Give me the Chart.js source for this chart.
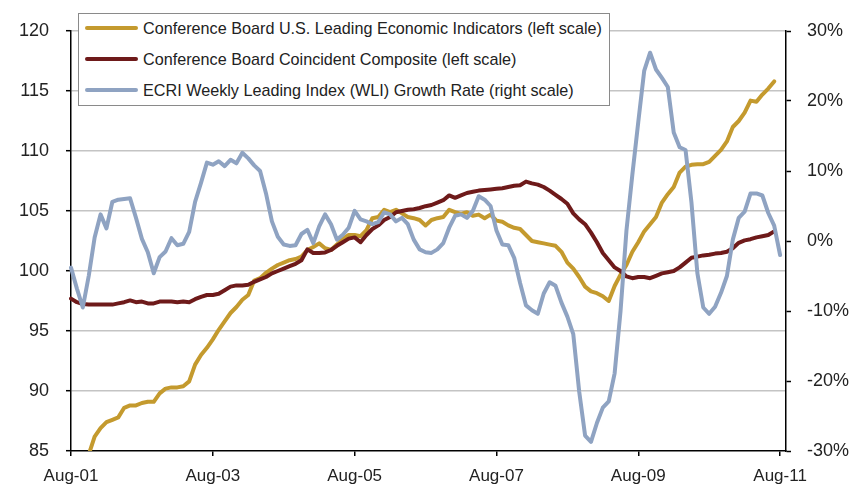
<!DOCTYPE html>
<html lang="en">
<head>
<meta charset="UTF-8">
<title>Conference Board indices vs ECRI WLI growth</title>
<script src="https://cdn.jsdelivr.net/npm/chart.js"></script>
<style>
  body { margin: 0; background: #fff; }
  .wrap { position: relative; width: 857px; height: 487px; }
  .legend { position: absolute; left: 78px; top: 13px; width: 530px; height: 91px; border: 1px solid #8a8a8a; background: #fff;
            font: 16.2px "Liberation Sans", Arial, sans-serif; color: #222; }
  .row { position: absolute; left: 6px; height: 20px; display: flex; align-items: center; white-space: nowrap; }
  .swatch { width: 53px; height: 4px; border-radius: 2px; margin-right: 5px; }
</style>
</head>
<body>
<div class="wrap">
  <canvas id="chart" width="857" height="487"></canvas>
  <!-- legend sits inside the plot, like the original -->
  <div class="legend">
    <div class="row" style="top:4px"><span class="swatch" style="background:#C49A2E"></span>Conference Board U.S. Leading Economic Indicators (left scale)</div>
    <div class="row" style="top:35px"><span class="swatch" style="background:#6E1A1A"></span>Conference Board Coincident Composite (left scale)</div>
    <div class="row" style="top:66px"><span class="swatch" style="background:#8FA3C2"></span>ECRI Weekly Leading Index (WLI) Growth Rate (right scale)</div>
  </div>
</div>

<script>
  // monthly, Aug-01 .. Sep-11
  const MONTHS = ['Jan','Feb','Mar','Apr','May','Jun','Jul','Aug','Sep','Oct','Nov','Dec'];
  const YEARS = ['01','02','03','04','05','06','07','08','09','10','11'];
  const labels = [];
  YEARS.forEach((y, yi) => MONTHS.forEach((m, mi) => {
    if ((yi === 0 && mi < 7) || (yi === YEARS.length - 1 && mi > 8)) return;
    labels.push(m + '-' + y);
  }));

  const tickLabels = ['Aug-01','Aug-03','Aug-05','Aug-07','Aug-09','Aug-11'];

  // Conference Board leading index (left scale)
  const leading = [
    83.9, 84.1, 84.4, 84.7, 86.2, 86.9, 87.4, 87.6, 87.8, 88.6, 88.8, 88.8,
    89.0, 89.1, 89.1, 89.8, 90.2, 90.3, 90.3, 90.4, 90.8, 92.2, 93.0, 93.6,
    94.3, 95.1, 95.8, 96.5, 97.0, 97.6, 98.0, 99.2, 99.4, 99.85, 100.2, 100.5,
    100.7, 100.9, 101.0, 101.2, 101.75, 102.0, 102.3, 101.9, 101.75, 102.2, 102.7, 103.0,
    103.0, 102.9, 103.4, 104.4, 104.5, 105.1, 104.9, 105.1, 104.8, 104.5, 104.4, 104.25,
    103.8, 104.25, 104.4, 104.5, 105.1, 104.9, 104.75, 104.9, 104.6, 104.7, 104.4, 104.7,
    104.2, 104.1, 103.8, 103.6, 103.5, 103.0, 102.5, 102.4, 102.3, 102.2, 102.1, 101.6,
    100.7, 100.2, 99.5, 98.7, 98.3, 98.15, 97.9, 97.5, 98.75, 99.7, 100.5, 101.6,
    102.4, 103.3, 103.9, 104.5, 105.7, 106.4, 107.0, 108.2, 108.7, 108.85, 108.9, 108.9,
    109.1, 109.6, 110.1, 110.8, 112.0, 112.5, 113.2, 114.2, 114.1, 114.7, 115.2, 115.8
  ];

  // Conference Board coincident index (left scale)
  const coincident = [
    97.7, 97.4, 97.25, 97.2, 97.2, 97.2, 97.2, 97.2, 97.3, 97.4, 97.55, 97.4,
    97.45, 97.3, 97.3, 97.45, 97.45, 97.45, 97.4, 97.45, 97.4, 97.65, 97.85, 98.0,
    98.0, 98.1, 98.4, 98.7, 98.8, 98.8, 98.85, 99.1, 99.3, 99.5, 99.8, 100.0,
    100.2, 100.4, 100.6, 100.9, 101.8, 101.5, 101.5, 101.55, 101.75, 102.1, 102.4, 102.7,
    102.8, 102.4, 103.0, 103.5, 103.8, 104.25, 104.5, 104.9, 105.0, 105.1, 105.15, 105.25,
    105.4, 105.5, 105.7, 105.9, 106.3, 106.1, 106.3, 106.5, 106.6, 106.7, 106.75, 106.8,
    106.85, 106.9, 107.0, 107.1, 107.15, 107.45, 107.3, 107.2, 107.0, 106.7, 106.35, 106.0,
    105.6, 104.8, 104.3, 103.9, 103.2, 102.4, 101.5, 100.9, 100.3, 100.0, 99.55, 99.4,
    99.5, 99.5, 99.4, 99.6, 99.8, 99.9, 100.0, 100.3, 100.7, 101.1, 101.2, 101.3,
    101.35, 101.45, 101.5, 101.6, 101.9, 102.35, 102.55, 102.65, 102.8, 102.9, 103.0, 103.3
  ];

  // ECRI WLI growth rate, % (right scale)
  const wliGrowth = [
    -3.8, -6.8, -9.5, -5.0, 0.5, 3.8, 1.8, 5.6, 5.9, 6.0, 6.1, 3.3,
    0.3, -1.6, -4.6, -2.3, -1.5, 0.4, -0.6, -0.4, 1.3, 5.6, 8.3, 11.2,
    10.9, 11.4, 10.7, 11.6, 11.1, 12.6, 11.8, 10.8, 10.0, 6.8, 2.8, 0.6,
    -0.5, -0.7, -0.6, 1.0, 1.6, -0.3, 2.1, 3.8, 2.4, 0.2, 0.9, 1.9,
    4.3, 3.1, 2.8, 2.4, 2.7, 4.1, 3.8, 2.8, 3.3, 2.4, 0.2, -1.2,
    -1.6, -1.7, -1.2, -0.3, 1.9, 3.6, 3.8, 3.3, 4.3, 6.4, 5.9, 5.0,
    1.5, -0.5, -0.6, -2.4, -6.0, -9.2, -9.9, -10.4, -7.5, -5.9, -6.4, -8.8,
    -10.8, -13.3, -21.5, -27.8, -28.7, -26.0, -23.8, -22.9, -18.9, -10.0, 1.5, 9.5,
    17.0, 24.3, 26.9, 24.5, 23.3, 22.0, 15.5, 13.4, 13.0, 5.5, -4.6, -9.5,
    -10.4, -9.4, -7.4, -5.0, 0.2, 3.3, 4.2, 6.8, 6.8, 6.5, 4.0, 2.2,
    -2.0
  ];

  const FONT = "'Liberation Sans', Arial, sans-serif";
  const GRID = '#c4c4c4';

  const line = (data, color, axis, order) => ({
    data, yAxisID: axis, order,
    borderColor: color, borderWidth: 4, pointRadius: 0,
    borderCapStyle: 'round', borderJoinStyle: 'round', tension: 0
  });

  new Chart(document.getElementById('chart'), {
    type: 'line',
    data: {
      labels,
      datasets: [
        line(leading, '#C49A2E', 'y', 2),
        line(coincident, '#6E1A1A', 'y', 1),
        line(wliGrowth, '#8FA3C2', 'y1', 0)
      ]
    },
    options: {
      responsive: false,
      animation: false,
      layout: { padding: { top: 31, left: 0, right: 0, bottom: 0 } },
      plugins: { legend: { display: false }, tooltip: { enabled: false } },
      scales: {
        x: {
          type: 'category',
          offset: false,
          afterFit: s => { s.height = 36; },
          border: { color: '#000', width: 1.5 },
          grid: { drawOnChartArea: false, tickLength: 5, color: '#000', lineWidth: 1.5 },
          ticks: {
            autoSkip: false, maxRotation: 0, padding: 10,
            color: '#222', font: { family: FONT, size: 17 },
            callback: (v, i) => tickLabels.includes(labels[i]) ? labels[i] : null
          }
        },
        y: {
          position: 'left',
          min: 85, max: 120,
          afterFit: s => { s.width = 71; },
          border: { color: '#000', width: 1.5 },
          grid: {
            color: ctx => ctx.tick && ctx.tick.value === 85 ? 'transparent' : GRID,
            lineWidth: 1.4, tickLength: 5, tickColor: '#000', tickWidth: 1.5
          },
          ticks: { stepSize: 5, padding: 17, color: '#222', font: { family: FONT, size: 18 } }
        },
        y1: {
          position: 'right',
          min: -30, max: 30,
          afterFit: s => { s.width = 71; },
          border: { color: '#000', width: 1.5 },
          grid: { drawOnChartArea: false, tickLength: 5, tickColor: '#000', tickWidth: 1.5 },
          ticks: {
            stepSize: 10, padding: 16, color: '#222', font: { family: FONT, size: 18 },
            callback: v => v + '%'
          }
        }
      }
    }
  });
</script>
</body>
</html>
